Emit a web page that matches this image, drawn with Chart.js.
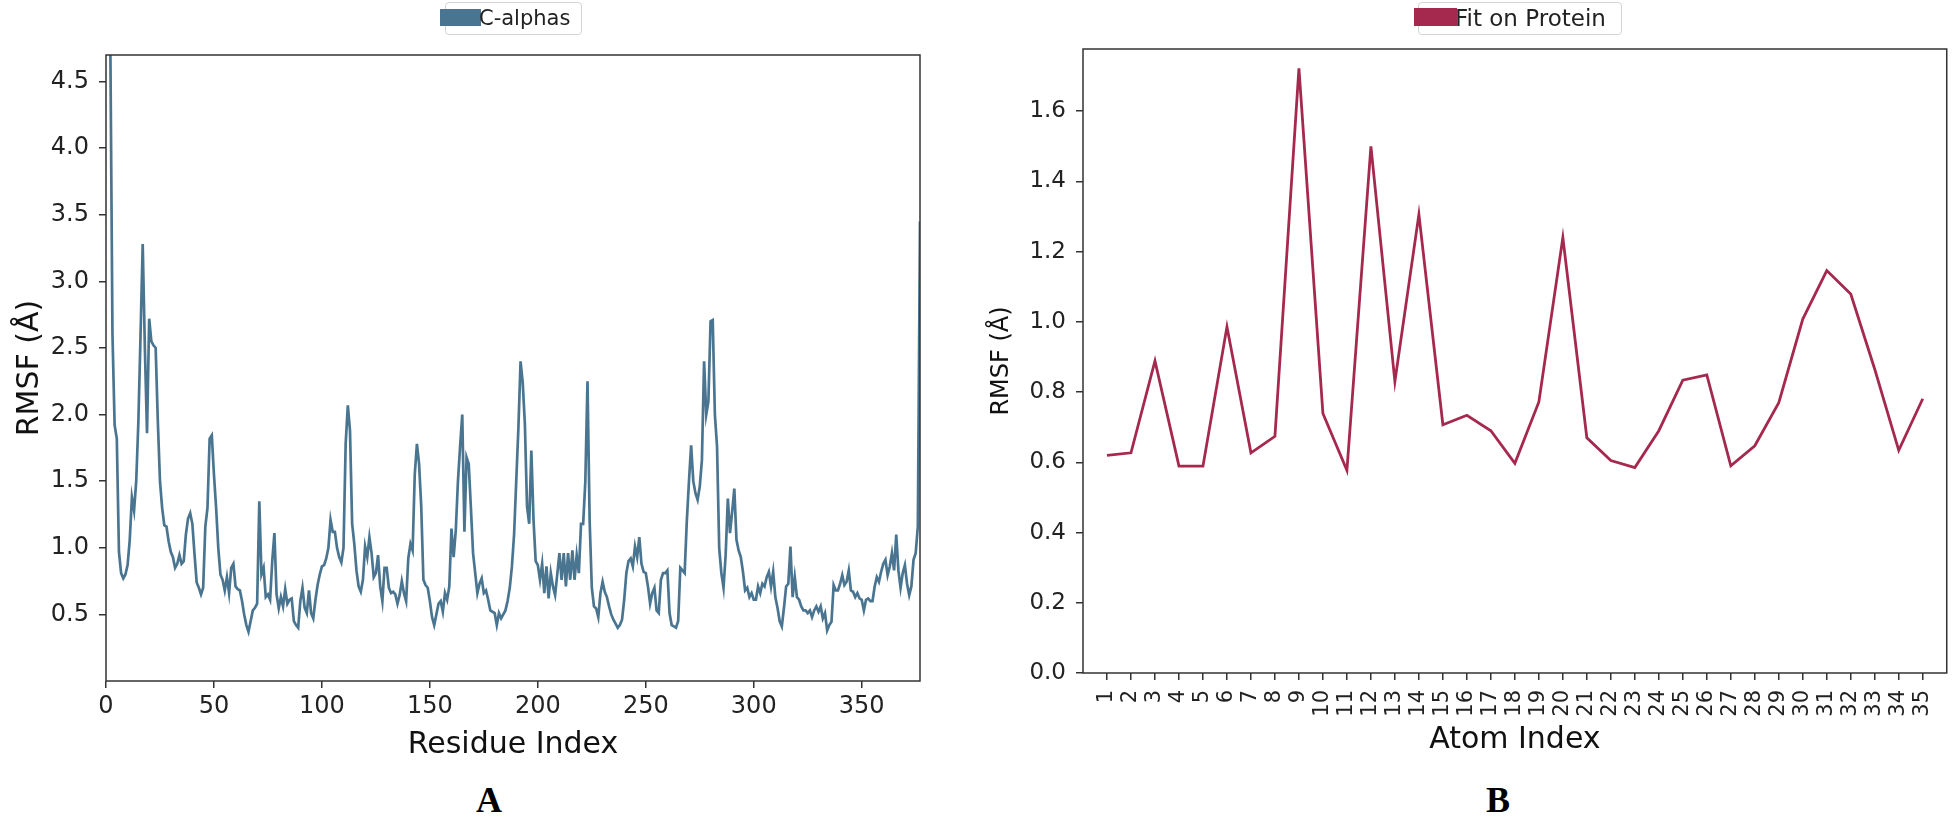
<!DOCTYPE html>
<html>
<head>
<meta charset="utf-8">
<script src="https://cdn.jsdelivr.net/npm/chart.js@4.4.0/dist/chart.umd.min.js"></script>
<style>
  body { margin: 0; background: #fff; width: 1958px; height: 820px; position: relative; overflow: hidden;
         font-family: "DejaVu Sans", sans-serif; color: #222; }
  canvas { position: absolute; top: 0; }
  #left-chart { left: 0; }
  #right-chart { left: 960px; }
  .legend-box { position: absolute; border: 1px solid #d4d4d4; border-radius: 4px; background: #fff; }
  .legend-swatch { position: absolute; }
  .legend-text { position: absolute; white-space: nowrap; line-height: 1; color: #222; }
  .panel-label { position: absolute; font-family: "Liberation Serif", serif; font-weight: bold;
                 font-size: 36px; line-height: 36px; transform: translateX(-50%); color: #000; }
</style>
</head>
<body>
<canvas id="left-chart" width="960" height="780"></canvas>
<canvas id="right-chart" width="998" height="780"></canvas>

<div class="legend-box" style="left:445px; top:2px; width:135px; height:31px;"></div>
<div class="legend-swatch" id="ca-swatch" style="left:440px; top:9px; width:41px; height:17px;"></div>
<div class="legend-text" style="left:479px; top:8px; font-size:21px;">C-alphas</div>

<div class="legend-box" style="left:1418px; top:2px; width:202px; height:31px;"></div>
<div class="legend-swatch" id="fit-swatch" style="left:1414px; top:8px; width:43px; height:18px;"></div>
<div class="legend-text" style="left:1455px; top:7px; font-size:23px;">Fit on Protein</div>

<div class="panel-label" style="left:489px; top:782px;">A</div>
<div class="panel-label" style="left:1498px; top:782px;">B</div>

<script>
// panel A: C-alpha RMSF per residue (index = position in array)
const residueRmsf = [
  5.2, 5.0, 4.8, 2.6, 1.92, 1.82, 0.97, 0.81, 0.77, 0.8,
  0.87, 1.06, 1.38, 1.28, 1.5, 1.95, 2.6, 3.28, 2.5, 1.86,
  2.72, 2.55, 2.52, 2.5, 1.95, 1.5, 1.3, 1.17, 1.16, 1.05,
  0.97, 0.93, 0.85, 0.88, 0.945, 0.88, 0.9, 1.1, 1.22, 1.26,
  1.18, 0.95, 0.74, 0.7, 0.65, 0.7, 1.16, 1.3, 1.82, 1.845,
  1.55, 1.3, 1.0, 0.8, 0.76, 0.68, 0.78, 0.66, 0.85, 0.88,
  0.71, 0.69, 0.68, 0.6, 0.5, 0.42, 0.37, 0.45, 0.53, 0.55,
  0.58, 1.35, 0.8, 0.85, 0.63, 0.65, 0.61, 0.9, 1.11, 0.65,
  0.545, 0.63, 0.56, 0.69, 0.58, 0.61, 0.62, 0.45, 0.42, 0.4,
  0.6, 0.7, 0.55, 0.51, 0.68, 0.51, 0.47, 0.61, 0.72, 0.8,
  0.86, 0.87, 0.92, 1.0, 1.21, 1.12, 1.12, 1.0, 0.93, 0.89,
  1.0, 1.78, 2.07, 1.88, 1.18, 1.03, 0.83, 0.71, 0.67, 0.76,
  1.01, 0.93, 1.08, 0.96, 0.78, 0.81, 0.945, 0.71, 0.6, 0.85,
  0.85, 0.7, 0.66, 0.67, 0.65, 0.58, 0.645, 0.75, 0.66, 0.6,
  0.92, 1.03, 0.98, 1.55, 1.78, 1.63, 1.31, 0.76, 0.72, 0.7,
  0.6, 0.48, 0.42, 0.5, 0.58, 0.6, 0.52, 0.66, 0.61, 0.71,
  1.145, 0.93, 1.13, 1.5, 1.76, 2.0, 1.12, 1.68, 1.63, 1.3,
  0.96, 0.81, 0.66, 0.73, 0.77, 0.66, 0.68, 0.61, 0.53, 0.52,
  0.51, 0.42, 0.51, 0.47, 0.5, 0.53, 0.6, 0.7, 0.86, 1.1,
  1.5, 1.9, 2.4, 2.24, 1.93, 1.31, 1.18, 1.73, 1.21, 0.9,
  0.87, 0.76, 0.88, 0.66, 0.86, 0.62, 0.81, 0.71, 0.645, 0.8,
  0.96, 0.76, 0.96, 0.71, 0.96, 0.76, 0.98, 0.76, 0.945, 0.81,
  1.18, 1.18, 1.5, 2.25, 1.2, 0.7, 0.56, 0.545, 0.48, 0.66,
  0.745, 0.67, 0.63, 0.56, 0.5, 0.46, 0.43, 0.4, 0.42, 0.46,
  0.61, 0.81, 0.9, 0.92, 0.86, 1.01, 0.93, 1.08, 0.88, 0.82,
  0.81, 0.71, 0.58, 0.66, 0.7, 0.53, 0.51, 0.76, 0.81, 0.81,
  0.83, 0.51, 0.42, 0.41, 0.4, 0.45, 0.85, 0.83, 0.81, 1.2,
  1.5, 1.77, 1.5, 1.41, 1.36, 1.46, 1.66, 2.4, 2.0, 2.1,
  2.7, 2.71, 2.0, 1.76, 1.0, 0.81, 0.7, 0.95, 1.37, 1.11,
  1.27, 1.445, 1.06, 0.98, 0.93, 0.82, 0.68, 0.7, 0.63, 0.66,
  0.61, 0.61, 0.71, 0.66, 0.73, 0.71, 0.78, 0.82, 0.71, 0.82,
  0.63, 0.55, 0.45, 0.41, 0.55, 0.71, 0.73, 1.01, 0.63, 0.78,
  0.63, 0.61, 0.56, 0.53, 0.53, 0.51, 0.53, 0.48, 0.53, 0.56,
  0.52, 0.56, 0.47, 0.51, 0.38, 0.42, 0.445, 0.72, 0.68, 0.68,
  0.73, 0.795, 0.72, 0.745, 0.83, 0.68, 0.67, 0.63, 0.66, 0.62,
  0.61, 0.53, 0.61, 0.62, 0.6, 0.6, 0.71, 0.78, 0.745, 0.82,
  0.88, 0.91, 0.795, 0.86, 0.96, 0.83, 1.1, 0.83, 0.7, 0.81,
  0.87, 0.73, 0.645, 0.71, 0.91, 0.96, 1.16, 3.45
];
const residueTicks = [0, 50, 100, 150, 200, 250, 300, 350];
const residueRmsfTicks = [0.5, 1.0, 1.5, 2.0, 2.5, 3.0, 3.5, 4.0, 4.5];

// panel B: ligand atom RMSF
const atomIndex = [1, 2, 3, 4, 5, 6, 7, 8, 9, 10, 11, 12, 13, 14, 15, 16, 17, 18,
  19, 20, 21, 22, 23, 24, 25, 26, 27, 28, 29, 30, 31, 32, 33, 34, 35];
const atomRmsf = [0.62, 0.627, 0.889, 0.589, 0.589, 0.986, 0.627, 0.674, 1.722, 0.739,
  0.577, 1.5, 0.83, 1.306, 0.707, 0.734, 0.69, 0.597, 0.772, 1.24,
  0.67, 0.605, 0.585, 0.69, 0.834, 0.849, 0.59, 0.647, 0.77, 1.008,
  1.146, 1.079, 0.865, 0.634, 0.781];
const atomRmsfTicks = [0.0, 0.2, 0.4, 0.6, 0.8, 1.0, 1.2, 1.4, 1.6];

const caColor = "#4a7591";
const fitColor = "#a5294f";
const fontFamily = "'DejaVu Sans', sans-serif";

document.getElementById("ca-swatch").style.background = caColor;
document.getElementById("fit-swatch").style.background = fitColor;

// matplotlib-like box around the plot area
const frame = {
  id: "frame",
  afterDraw(chart) {
    const { ctx, chartArea: a } = chart;
    ctx.save();
    ctx.strokeStyle = "#333";
    ctx.lineWidth = 1.5;
    ctx.strokeRect(a.left, a.top, a.right - a.left, a.bottom - a.top);
    ctx.restore();
  }
};

function tickGrid() {
  return { display: true, drawOnChartArea: false, drawTicks: true, tickLength: 7, color: "#333", lineWidth: 1.5 };
}

new Chart(document.getElementById("left-chart"), {
  type: "line",
  data: {
    datasets: [{
      label: "C-alphas",
      data: residueRmsf.map((v, i) => ({ x: i, y: v })),
      borderColor: caColor,
      borderWidth: 2.7,
      pointRadius: 0,
      tension: 0,
    }]
  },
  options: {
    responsive: false,
    animation: false,
    layout: { padding: { top: 55, right: 40, bottom: 9, left: 0 } },
    plugins: { legend: { display: false }, tooltip: { enabled: false } },
    scales: {
      x: {
        type: "linear", min: 0, max: 377,
        afterBuildTicks: ax => { ax.ticks = residueTicks.map(v => ({ value: v })); },
        afterFit: ax => { ax.height = 90; },
        grid: tickGrid(),
        border: { display: false },
        ticks: { font: { family: fontFamily, size: 24 }, color: "#222", padding: 4, maxRotation: 0, autoSkip: false,
                 callback: v => String(v) },
        title: { display: true, text: "Residue Index", font: { family: fontFamily, size: 30 }, color: "#111",
                 padding: { top: 0, bottom: 8 } }
      },
      y: {
        min: 0, max: 4.7,
        afterBuildTicks: ax => { ax.ticks = residueRmsfTicks.map(v => ({ value: v })); },
        afterFit: ax => { ax.width = 106; },
        grid: tickGrid(),
        border: { display: false },
        ticks: { font: { family: fontFamily, size: 24 }, color: "#222", padding: 10, autoSkip: false,
                 callback: v => v.toFixed(1) },
        title: { display: true, text: "RMSF (Å)", font: { family: fontFamily, size: 30 }, color: "#111",
                 padding: { top: 12, bottom: 0 } }
      }
    }
  },
  plugins: [frame]
});

new Chart(document.getElementById("right-chart"), {
  type: "line",
  data: {
    datasets: [{
      label: "Fit on Protein",
      data: atomIndex.map((a, i) => ({ x: a, y: atomRmsf[i] })),
      borderColor: fitColor,
      borderWidth: 2.8,
      pointRadius: 0,
      tension: 0,
    }]
  },
  options: {
    responsive: false,
    animation: false,
    layout: { padding: { top: 49, right: 2, bottom: 17, left: 0 } },
    plugins: { legend: { display: false }, tooltip: { enabled: false } },
    scales: {
      x: {
        type: "linear", min: 0, max: 36,
        afterBuildTicks: ax => { ax.ticks = atomIndex.map(v => ({ value: v })); },
        afterFit: ax => { ax.height = 90; },
        grid: tickGrid(),
        border: { display: false },
        ticks: { font: { family: fontFamily, size: 21 }, color: "#222", padding: 10, minRotation: 90, maxRotation: 90,
                 autoSkip: false, callback: v => String(v) },
        title: { display: true, text: "Atom Index", font: { family: fontFamily, size: 30 }, color: "#111",
                 padding: { top: 0, bottom: 5 } }
      },
      y: {
        min: 0, max: 1.777,
        afterBuildTicks: ax => { ax.ticks = atomRmsfTicks.map(v => ({ value: v })); },
        afterFit: ax => { ax.width = 123; },
        grid: tickGrid(),
        border: { display: false },
        ticks: { font: { family: fontFamily, size: 23 }, color: "#222", padding: 10, autoSkip: false,
                 callback: v => v.toFixed(1) },
        title: { display: true, text: "RMSF (Å)", font: { family: fontFamily, size: 24 }, color: "#111",
                 padding: { top: 27, bottom: 0 } }
      }
    }
  },
  plugins: [frame]
});
</script>
</body>
</html>
